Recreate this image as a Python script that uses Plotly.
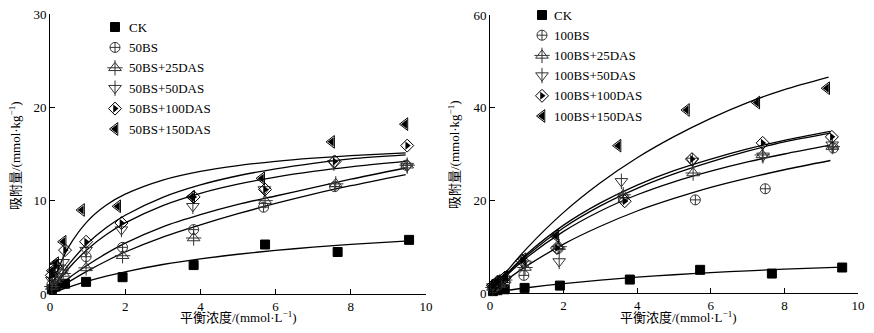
import plotly.graph_objects as go

# ---------------- data: left panel (50BS series) ----------------
L_NAMES = ["CK", "50BS", "50BS+25DAS", "50BS+50DAS", "50BS+100DAS", "50BS+150DAS"]

L_CK_X = [0.05, 0.15, 0.4, 0.96, 1.93, 3.82, 5.72, 7.65, 9.55]
L_CK_Y = [0.5, 0.8, 1.1, 1.3, 1.8, 3.1, 5.3, 4.5, 5.8]
L_BS_X = [0.05, 0.15, 0.35, 0.96, 1.93, 3.82, 5.68, 7.57, 9.47]
L_BS_Y = [1.0, 1.8, 2.6, 4.0, 5.0, 6.9, 9.3, 11.5, 13.8]
L_25_X = [0.05, 0.15, 0.35, 0.96, 1.93, 3.82, 5.72, 7.6, 9.5]
L_25_Y = [0.8, 1.5, 2.2, 2.8, 4.1, 6.0, 10.0, 11.8, 13.8]
L_50_X = [0.05, 0.15, 0.35, 0.96, 1.9, 3.8, 5.7, 7.55, 9.5]
L_50_Y = [1.5, 2.5, 3.4, 4.7, 6.9, 9.4, 11.2, 14.0, 13.7]
L_100_X = [0.05, 0.15, 0.4, 0.96, 1.9, 3.82, 5.72, 7.57, 9.5]
L_100_Y = [2.0, 3.0, 4.7, 5.6, 7.6, 10.4, 11.2, 14.2, 15.9]
L_150_X = [0.05, 0.15, 0.35, 0.84, 1.8, 3.77, 5.63, 7.49, 9.44]
L_150_Y = [2.5, 3.3, 5.6, 9.0, 9.4, 10.4, 12.4, 16.3, 18.2]

# fitted curves
L_CURVE_X = [0, 0.1, 0.25, 0.5, 1, 1.5, 2, 3, 4, 5, 6, 7, 8, 9.46]
L_CK_CURVE_X = [0, 0.1, 0.25, 0.5, 1, 1.5, 2, 3, 4, 5, 6, 7, 8, 9.55]
LC_CK = [0, 0.16, 0.39, 0.74, 1.37, 1.91, 2.38, 3.16, 3.77, 4.26, 4.67, 5.02, 5.31, 5.69]
LC_BS = [0, 0.27, 0.67, 1.3, 2.48, 3.54, 4.5, 6.1, 7.4, 8.6, 9.7, 10.7, 11.6, 12.8]
LC_25 = [0, 0.35, 0.87, 1.7, 3.1, 4.35, 5.45, 7.2, 8.5, 9.6, 10.5, 11.4, 12.3, 13.5]
LC_50 = [0, 0.63, 1.49, 2.76, 4.8, 6.37, 7.62, 9.48, 10.79, 11.77, 12.53, 13.14, 13.63, 14.21]
LC_100 = [0, 0.73, 1.73, 3.17, 5.43, 7.13, 8.44, 10.36, 11.69, 12.67, 13.41, 14.0, 14.48, 14.9]
LC_150 = [0, 1.33, 2.98, 5.07, 7.81, 9.53, 10.7, 12.21, 13.14, 13.76, 14.21, 14.55, 14.82, 15.12]

# ---------------- data: right panel (100BS series) ----------------
R_NAMES = ["CK", "100BS", "100BS+25DAS", "100BS+50DAS", "100BS+100DAS", "100BS+150DAS"]

R_CK_X = [0.08, 0.2, 0.4, 0.94, 1.9, 3.8, 5.71, 7.66, 9.57]
R_CK_Y = [0.4, 0.6, 0.8, 1.1, 1.6, 2.9, 5.0, 4.2, 5.5]
R_BS_X = [0.08, 0.2, 0.4, 0.92, 1.85, 3.62, 5.58, 7.48, 9.33]
R_BS_Y = [1.0, 1.6, 2.3, 3.8, 9.6, 20.5, 20.1, 22.5, 31.3]
R_25_X = [0.08, 0.2, 0.4, 0.95, 1.88, 3.62, 5.52, 7.4, 9.3]
R_25_Y = [1.2, 1.9, 2.8, 5.5, 10.0, 21.2, 25.9, 29.8, 31.6]
R_50_X = [0.08, 0.2, 0.4, 0.95, 1.88, 3.57, 5.5, 7.42, 9.3]
R_50_Y = [1.4, 2.2, 3.0, 6.3, 6.8, 24.1, 28.5, 29.6, 32.0]
R_100_X = [0.08, 0.2, 0.4, 0.88, 1.82, 3.66, 5.49, 7.41, 9.29]
R_100_Y = [1.6, 2.4, 3.3, 7.0, 9.7, 19.8, 28.9, 32.4, 33.7]
R_150_X = [0.08, 0.2, 0.4, 0.9, 1.79, 3.48, 5.34, 7.25, 9.15]
R_150_Y = [1.8, 2.6, 3.6, 7.3, 12.3, 31.8, 39.5, 41.1, 44.2]

R_CURVE_X = [0, 0.25, 0.5, 1, 2, 3, 4, 5, 6, 7, 8, 9.25]
R_CK_CURVE_X = [0, 0.25, 0.5, 1, 2, 3, 4, 5, 6, 7, 8, 9.57]
R_150_CURVE_X = [0, 0.25, 0.5, 1, 2, 3, 4, 5, 6, 7, 8, 9.2]
RC_CK = [0, 0.31, 0.59, 1.13, 2.03, 2.78, 3.41, 3.94, 4.39, 4.79, 5.14, 5.6]
RC_BS = [0, 1.59, 3.1, 5.85, 10.56, 14.4, 17.7, 20.4, 22.8, 24.8, 26.6, 28.6]
RC_25 = [0, 2.16, 4.14, 7.66, 13.3, 17.7, 21.2, 24.0, 26.3, 28.3, 30.0, 31.9]
RC_50 = [0, 2.3, 4.4, 8.1, 14.1, 18.8, 22.6, 25.7, 28.3, 30.6, 32.6, 34.5]
RC_100 = [0, 2.37, 4.55, 8.41, 14.65, 19.45, 23.3, 26.4, 28.9, 31.1, 32.96, 34.9]
RC_150 = [0, 2.62, 5.09, 9.64, 17.4, 23.8, 29.2, 33.75, 37.7, 41.1, 43.9, 46.6]

X_TICKS = [0, 2, 4, 6, 8, 10]
L_Y_TICKS = [0, 10, 20, 30]
R_Y_TICKS = [0, 20, 40, 60]

X_TITLE = "平衡浓度/(mmol·L<sup>−1</sup>)"
Y_TITLE = "吸附量/(mmol·kg<sup>−1</sup>)"

# ---------------- styles ----------------
GREY = "#333333"
STYLES = [
    [dict(symbol="square", size=9, color="black", line=dict(color="black", width=1))],
    [dict(symbol="circle-cross-open", size=10, color=GREY, line=dict(color=GREY, width=1))],
    [dict(symbol="triangle-up-open", size=11, color=GREY, line=dict(color=GREY, width=1)),
     dict(symbol="cross-thin-open", size=11, color=GREY, line=dict(color=GREY, width=1))],
    [dict(symbol="triangle-down-open", size=11, color=GREY, line=dict(color=GREY, width=1)),
     dict(symbol="line-ns-open", size=11, color=GREY, line=dict(color=GREY, width=1))],
    [dict(symbol="diamond-open", size=10, color="black", line=dict(color="black", width=1)),
     dict(symbol="triangle-right", size=7, color="black", line=dict(color="black", width=0))],
    [dict(symbol="triangle-left-open", size=11, color="black", line=dict(color="black", width=1)),
     dict(symbol="triangle-left", size=8, color="black", line=dict(color="black", width=0))],
]

SERIF = "Liberation Serif, Times New Roman, Noto Sans CJK SC, serif"
CJK = "Liberation Serif, Noto Sans CJK SC, serif"

# the page body has an 8px margin on every side; the figure is sized so the page
# fits the 874x333 window exactly (no scrolling)
OFF = 8
W, H = 874 - 2 * OFF, 333 - 2 * OFF

def fx(xr):  # window x -> paper fraction
    return (xr - OFF) / W

def fy(yr):  # window y -> paper fraction (from bottom)
    return (H - (yr - OFF)) / H

fig = go.Figure()

def add_panel(xa, ya, points, curves):
    for cx, cy in curves:
        fig.add_trace(go.Scatter(x=cx, y=cy, mode="lines", xaxis=xa, yaxis=ya,
                                 line=dict(color="black", width=1.3, shape="spline", smoothing=0.8),
                                 showlegend=False, hoverinfo="skip"))
    for (px, py), layers in zip(points, STYLES):
        for m in layers:
            fig.add_trace(go.Scatter(x=px, y=py, mode="markers", xaxis=xa, yaxis=ya,
                                     marker=m, showlegend=False, cliponaxis=False))

add_panel("x", "y",
          [(L_CK_X, L_CK_Y), (L_BS_X, L_BS_Y), (L_25_X, L_25_Y),
           (L_50_X, L_50_Y), (L_100_X, L_100_Y), (L_150_X, L_150_Y)],
          [(L_CK_CURVE_X, LC_CK), (L_CURVE_X, LC_BS), (L_CURVE_X, LC_25),
           (L_CURVE_X, LC_50), (L_CURVE_X, LC_100), (L_CURVE_X, LC_150)])
add_panel("x2", "y2",
          [(R_CK_X, R_CK_Y), (R_BS_X, R_BS_Y), (R_25_X, R_25_Y),
           (R_50_X, R_50_Y), (R_100_X, R_100_Y), (R_150_X, R_150_Y)],
          [(R_CK_CURVE_X, RC_CK), (R_CURVE_X, RC_BS), (R_CURVE_X, RC_25),
           (R_CURVE_X, RC_50), (R_CURVE_X, RC_100), (R_150_CURVE_X, RC_150)])

# ---------------- manual legends (pixel overlay axis, window coords) ----------------
annotations = []

def add_legend(names, sym_x, text_x, top_y, step):
    for i, (name, layers) in enumerate(zip(names, STYLES)):
        yy = top_y + i * step
        for m in layers:
            fig.add_trace(go.Scatter(x=[sym_x], y=[yy], mode="markers", xaxis="x3", yaxis="y3",
                                     marker=m, showlegend=False, hoverinfo="skip", cliponaxis=False))
        annotations.append(dict(x=text_x, y=yy, xref="x3", yref="y3", text=name,
                                showarrow=False, xanchor="left", yanchor="middle",
                                font=dict(family=SERIF, size=13, color="black")))

add_legend(L_NAMES, 115, 127, 27, 20.4)
add_legend(R_NAMES, 542, 552, 15, 20.2)

# axis titles
for (tx, ty, txt, ang) in [(238, 317, X_TITLE, 0), (678, 317, X_TITLE, 0),
                           (15, 156, Y_TITLE, -90), (454, 155, Y_TITLE, -90)]:
    annotations.append(dict(x=tx, y=ty, xref="x3", yref="y3", text=txt, textangle=ang,
                            showarrow=False, xanchor="center", yanchor="middle",
                            font=dict(family=CJK, size=13, color="black")))

axis_common = dict(showgrid=False, zeroline=False, showline=True, linecolor="black",
                   linewidth=1, ticks="inside", ticklen=5, tickwidth=1, tickcolor="black",
                   tickfont=dict(family=SERIF, size=13, color="black"), mirror=False,
                   automargin=False, ticklabeloverflow="allow")

fig.update_layout(
    width=W, height=H,
    margin=dict(l=0, r=0, t=0, b=0, pad=0, autoexpand=False),
    paper_bgcolor="white", plot_bgcolor="rgba(0,0,0,0)",
    showlegend=False,
    xaxis=dict(domain=[fx(50), fx(426)], range=[0, 10], tickvals=X_TICKS, anchor="y", **axis_common),
    yaxis=dict(domain=[fy(294), fy(14)], range=[0, 30], tickvals=L_Y_TICKS, anchor="x", **axis_common),
    xaxis2=dict(domain=[fx(490), fx(858)], range=[0, 10], tickvals=X_TICKS, anchor="y2", **axis_common),
    yaxis2=dict(domain=[fy(293), fy(15)], range=[0, 60], tickvals=R_Y_TICKS, anchor="x2", **axis_common),
    xaxis3=dict(domain=[0, 1], range=[OFF, OFF + W], visible=False, anchor="y3",
                fixedrange=True, automargin=False),
    yaxis3=dict(domain=[0, 1], range=[OFF + H, OFF], visible=False, anchor="x3",
                fixedrange=True, automargin=False),
    annotations=annotations,
)

fig.write_html("out.html")
